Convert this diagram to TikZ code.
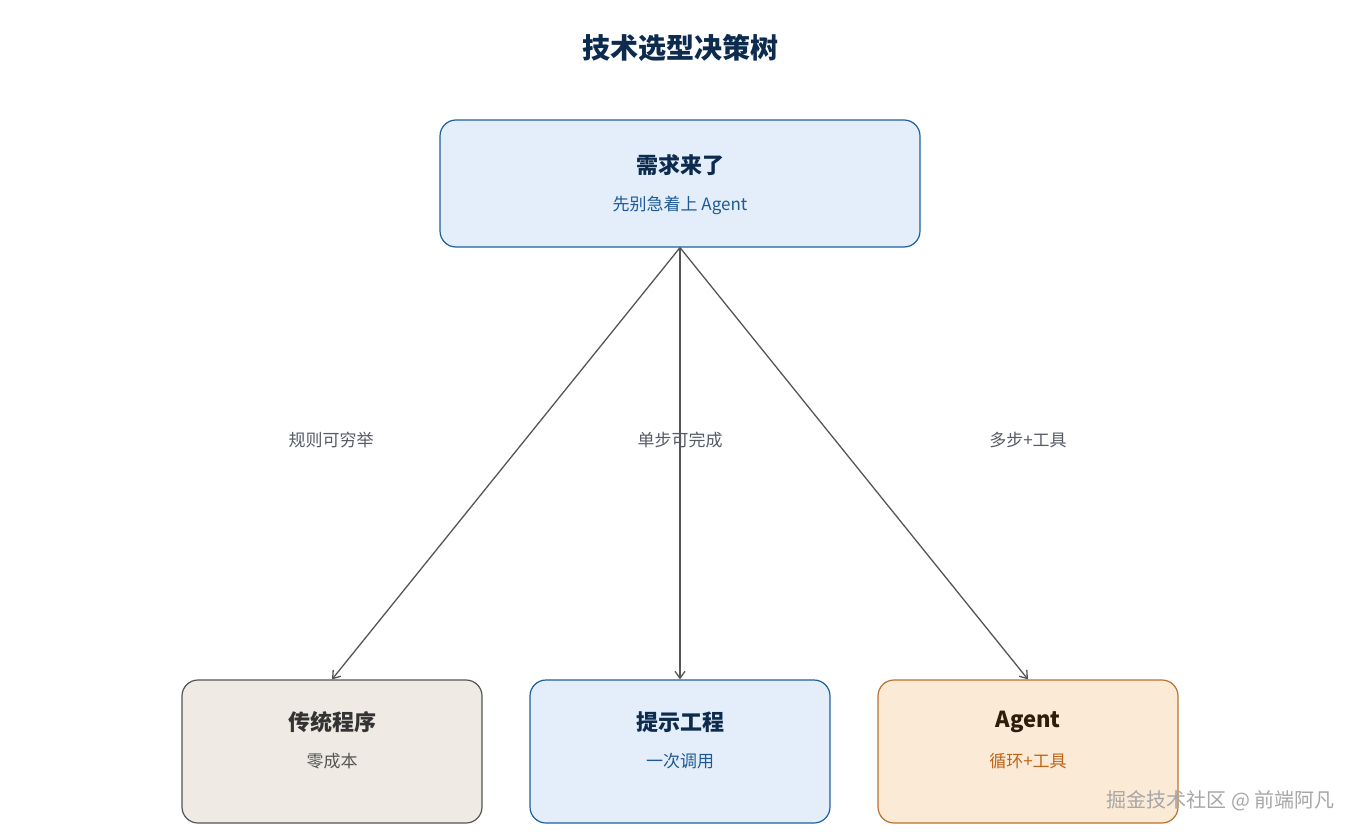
\documentclass[tikz,border=0pt]{standalone}
\usepackage{fontspec}
\setmainfont{Noto Sans CJK SC}
\usetikzlibrary{arrows.meta,positioning}
\definecolor{navy}{HTML}{0D2B4E}
\definecolor{blueline}{HTML}{1F5F9E}
\definecolor{bluefill}{HTML}{E3EEFA}
\definecolor{bluetext}{HTML}{1F5A96}
\definecolor{grayline}{HTML}{555555}
\definecolor{grayfill}{HTML}{EFEBE4}
\definecolor{orangeline}{HTML}{B8732E}
\definecolor{orangefill}{HTML}{FBEAD5}
\definecolor{orangetext}{HTML}{C0641A}
\definecolor{labelgray}{HTML}{555B66}
\tikzset{
        box/.style={rounded corners=16pt, line width=1.2pt, minimum width=300pt, minimum height=143pt},
        % Root node
        box_root/.style={box, draw=blueline, fill=bluefill, minimum width=480pt, minimum height=127pt},
        % Leaf nodes
        box_gray/.style={box, draw=grayline, fill=grayfill},
        box_blue/.style={box, draw=blueline, fill=bluefill},
        box_orange/.style={box, draw=orangeline, fill=orangefill},
        title/.style={font=\bfseries\fontsize{22}{26}\selectfont},
        sub/.style={font=\fontsize{17}{20}\selectfont},
        edge_label/.style={font=\fontsize{17}{20}\selectfont, text=labelgray},
        link/.style={-{Straight Barb[length=7pt,width=10pt]}, line width=1.3pt, draw=grayline}
}
\begin{document}
\begin{tikzpicture}[x=1pt,y=-1pt]
    \useasboundingbox (0,0) rectangle (1360,840);
    \node[font=\bfseries\fontsize{28}{32}\selectfont, text=navy] (heading) at (680,48) {技术选型决策树};

    \node[box_root] (root) at (680,183.5) {};
    \node[title, text=navy] (roottitle) at (680,165) {需求来了};
    \node[sub, text=bluetext] (rootsub) at (680,205) {先别急着上 Agent};

    \node[box_gray] (prog) at (332,751.5) {};
    \node[title, text=black!80] (progtitle) at (332,722) {传统程序};
    \node[sub, text=grayline] (progsub) at (332,761) {零成本};

    \node[box_blue] (prompt) at (680,751.5) {};
    \node[title, text=navy] (prompttitle) at (680,722) {提示工程};
    \node[sub, text=bluetext] (promptsub) at (680,761) {一次调用};

    \node[box_orange] (agent) at (1028,751.5) {};
    \node[title, text=black!75!orangeline] (agenttitle) at (1028,722) {Agent};
    \node[sub, text=orangetext] (agentsub) at (1028,761) {循环+工具};

    \draw[link] (root.south) -- (prog.north);
    \draw[link] (root.south) -- (prompt.north);
    \draw[link] (root.south) -- (agent.north);

    \node[edge_label] (l1) at (331,440) {规则可穷举};
    \node[edge_label] (l2) at (680,440) {单步可完成};
    \node[edge_label] (l3) at (1028,440) {多步+工具};

    \node[font=\fontsize{20}{24}\selectfont, text=black!35, anchor=east] (mark) at (1338,801) {掘金技术社区 @ 前端阿凡};
\end{tikzpicture}
\end{document}
